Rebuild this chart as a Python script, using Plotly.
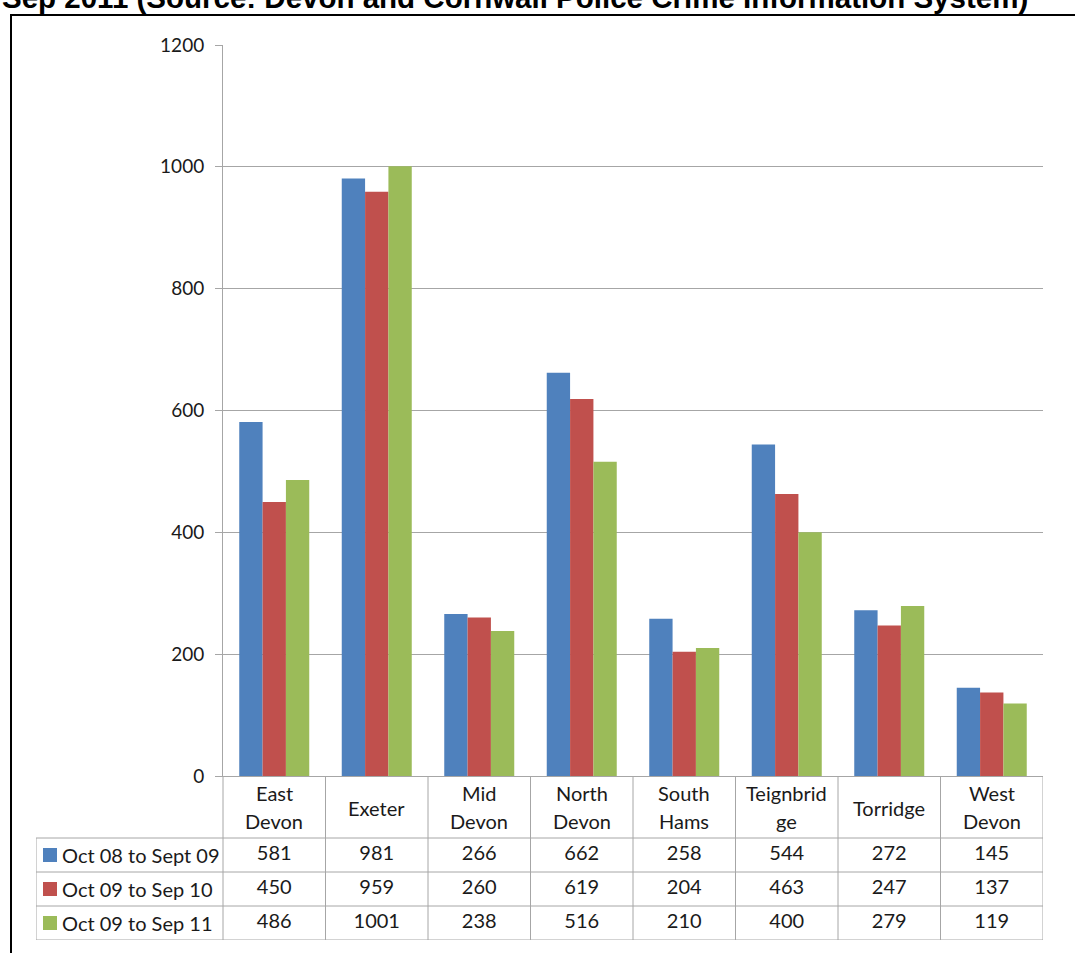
import plotly.graph_objects as go

# Recorded crime by district, three twelve-month periods
districts = ["East<br>Devon", "Exeter", "Mid<br>Devon", "North<br>Devon", "South<br>Hams",
             "Teignbrid<br>ge", "Torridge", "West<br>Devon"]
series_names = ["Oct 08 to Sept 09", "Oct 09 to Sep 10", "Oct 09 to Sep 11"]
oct08_sep09 = [581, 981, 266, 662, 258, 544, 272, 145]
oct09_sep10 = [450, 959, 260, 619, 204, 463, 247, 137]
oct09_sep11 = [486, 1001, 238, 516, 210, 400, 279, 119]
y_ticks = [0, 200, 400, 600, 800, 1000, 1200]

title_text = "Sep 2011 (Source: Devon and Cornwall Police Crime Information System)"

colors = ["#4F81BD", "#C0504D", "#9BBB59"]
series = [oct08_sep09, oct09_sep10, oct09_sep11]

W, H = 1075, 953
ML, MR, MT, MB = 36, 32, 45, 13
plot_left_px = 223          # left edge of the bar plot area
axis_zero_px = 776          # pixel row of the value axis zero
pw = W - ML - MR
ph = H - MT - MB

n = len(districts)
col_px = (W - MR - plot_left_px) / n          # width of one category column
legend_cols = (plot_left_px - ML) / col_px    # legend column width in category units
x2_left = -0.5 - legend_cols

# table rows: header is taller than the data rows
row_px = 34
header_rows = (838 - axis_zero_px) / row_px

grid = "#a6a6a6"
font_fam = "Lato, Carlito, Calibri, sans-serif"
txt = "#1a1a1a"
tsize = 20

fig = go.Figure()

for name, vals, c in zip(series_names, series, colors):
    fig.add_trace(go.Bar(x=list(range(n)), y=vals, name=name, marker=dict(color=c, line=dict(width=0)),
                         xaxis="x", yaxis="y", hoverinfo="skip", showlegend=False))

# data table values
for r, vals in enumerate(series):
    fig.add_trace(go.Scatter(x=list(range(n)), y=[r + 0.5] * n, mode="text", text=[str(v) for v in vals],
                             textfont=dict(family=font_fam, size=tsize, color=txt), xaxis="x2", yaxis="y2",
                             hoverinfo="skip", showlegend=False))

# legend keys in the first table column
key_x = x2_left + 14 / col_px
fig.add_trace(go.Scatter(x=[key_x] * 3, y=[r + 0.5 for r in range(3)], mode="markers",
                         marker=dict(symbol="square", size=14, color=colors, line=dict(width=0)),
                         xaxis="x2", yaxis="y2", hoverinfo="skip", showlegend=False))

annotations = []
for r, name in enumerate(series_names):
    annotations.append(dict(x=x2_left + 24 / col_px, y=r + 0.5, xref="x2", yref="y2", text=name,
                            showarrow=False, xanchor="left", yanchor="middle",
                            font=dict(family=font_fam, size=tsize, color=txt)))

# category header labels
for i, lab in enumerate(districts):
    parts = lab.split("<br>")
    if len(parts) == 2:
        ys = [-(838 - 793) / row_px, -(838 - 821) / row_px]
    else:
        ys = [-(838 - 808) / row_px]
    for p, yy in zip(parts, ys):
        annotations.append(dict(x=i, y=yy, xref="x2", yref="y2", text=p, showarrow=False,
                                xanchor="center", yanchor="middle",
                                font=dict(family=font_fam, size=tsize, color=txt)))

# heading line running off the top edge of the page
annotations.append(dict(x=(0 - ML) / pw, y=(H - MB + 3) / ph, xref="paper", yref="paper",
                        text="<b>" + title_text + "</b>",
                        showarrow=False, xanchor="left", yanchor="middle",
                        font=dict(family="Liberation Sans, Arial, sans-serif", size=29.5, color="#000000")))

shapes = []
line_style = dict(color=grid, width=1)
# vertical table rules
for k in range(n + 1):
    xk = -0.5 + k
    shapes.append(dict(type="line", xref="x2", yref="y2", x0=xk, x1=xk, y0=-header_rows, y1=3, line=line_style))
shapes.append(dict(type="line", xref="x2", yref="y2", x0=x2_left, x1=x2_left, y0=0, y1=3, line=line_style))
# horizontal table rules
for r in range(4):
    shapes.append(dict(type="line", xref="x2", yref="y2", x0=x2_left, x1=n - 0.5, y0=r, y1=r, line=line_style))

# outer black frame
shapes.append(dict(type="line", xref="paper", yref="paper", x0=(10 - ML) / pw, x1=(W + 10 - ML) / pw,
                   y0=(H - MB - 15) / ph, y1=(H - MB - 15) / ph, line=dict(color="#000000", width=2)))
shapes.append(dict(type="line", xref="paper", yref="paper", x0=(11 - ML) / pw, x1=(11 - ML) / pw,
                   y0=(H - MB - 14) / ph, y1=(H - MB - H - 10) / ph, line=dict(color="#000000", width=2)))

x_dom0 = (plot_left_px - ML) / pw
y_dom0 = (H - MB - axis_zero_px) / ph

fig.update_layout(
    template="none",
    width=W, height=H, autosize=False,
    margin=dict(l=ML, r=MR, t=MT, b=MB, pad=0),
    paper_bgcolor="white", plot_bgcolor="white",
    barmode="group", bargap=0.317, bargroupgap=0,
    xaxis=dict(domain=[x_dom0, 1], range=[-0.5, n - 0.5], showticklabels=False, ticks="",
               showgrid=False, zeroline=False, showline=True, linecolor=grid, linewidth=1,
               automargin=False, fixedrange=True),
    yaxis=dict(domain=[y_dom0, 1], range=[0, 1200], tickvals=y_ticks, ticks="outside", ticklen=7,
               tickcolor=grid, showline=True, linecolor=grid, linewidth=1, showgrid=True, gridcolor=grid,
               gridwidth=1, zeroline=False, ticklabelstandoff=7, automargin=False,
               tickfont=dict(family=font_fam, size=19, color=txt), fixedrange=True),
    xaxis2=dict(domain=[0, 1], range=[x2_left, n - 0.5], visible=False, anchor="y2",
                automargin=False, fixedrange=True),
    yaxis2=dict(domain=[0, y_dom0], range=[3, -header_rows], visible=False, anchor="x2",
                automargin=False, fixedrange=True),
    annotations=annotations,
    shapes=shapes,
)

fig.write_html("out.html")
